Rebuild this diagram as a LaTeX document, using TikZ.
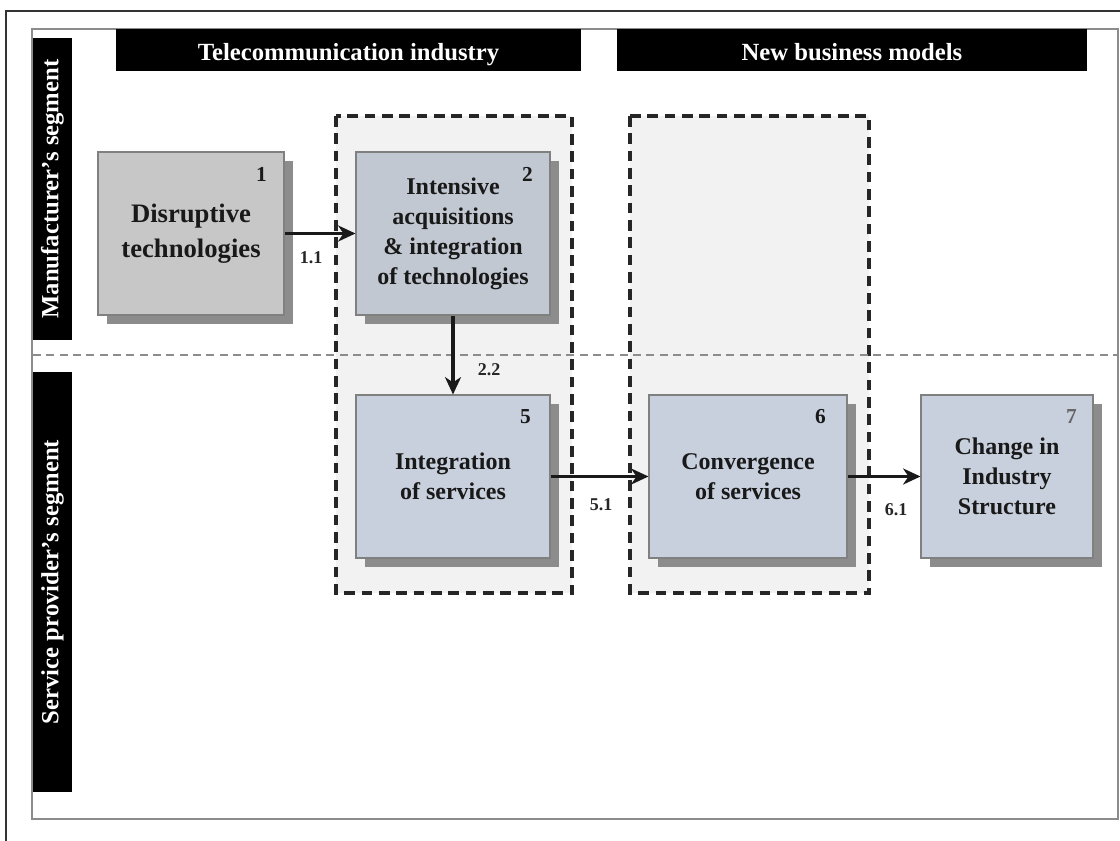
\documentclass[tikz,border=0pt]{standalone}
\usepackage{fontspec}
\setmainfont{Liberation Serif}
\usetikzlibrary{arrows.meta,calc,shadows}
\definecolor{boxgray}{HTML}{C7C7C7}
\definecolor{boxslate}{HTML}{C2C8D2}
\definecolor{boxblue}{HTML}{C8D0DD}
\definecolor{shadegray}{HTML}{8C8C8C}
\definecolor{zonefill}{HTML}{F2F2F2}
\begin{document}
\begin{tikzpicture}[x=0.75pt,y=-0.75pt,
  header/.style={fill=black, text=white, inner sep=0pt, minimum height=31.5pt,
    text height=17pt, text depth=1.5pt,
    font=\bfseries\fontsize{18.5}{22}\selectfont},
  sidebar/.style={fill=black, text=white, inner sep=0pt, rotate=90, minimum height=29.25pt,
    font=\bfseries\fontsize{18.5}{22}\selectfont},
  zone/.style={draw=black!85, line width=2.4pt, dash pattern=on 8pt off 5pt, fill=zonefill},
  stage/.style={draw=black!50, line width=0.8pt, text=black!90, align=center, inner sep=0pt,
    minimum height=122.25pt, font=\bfseries\fontsize{18}{22.5}\selectfont,
    general shadow={fill=shadegray, shadow xshift=6.75pt, shadow yshift=-6.75pt}},
  num/.style={inner sep=0pt, text=black!90, font=\bfseries\fontsize{16}{19}\selectfont},
  flow/.style={line width=2.7pt, black!90, -{Stealth[length=13pt,width=12pt,inset=4pt]}},
  tag/.style={inner sep=0pt, text=black!85, font=\bfseries\fontsize{13.5}{16}\selectfont}
]
\useasboundingbox (0,0) rectangle (1120,841);
\fill[white] (0,0) rectangle (1120,841);

% outer page edges and frame
\draw[black!80, line width=1.1pt] (6,841) -- (6,11) -- (1120,11);
\draw[black!45, line width=1.1pt] (32,29) rectangle (1118,819);

% column headers
\node[header, minimum width=348.75pt] (hTel) at (348.5,50) {Telecommunication industry};
\node[header, minimum width=352.5pt] (hNew) at (852,50) {New business models};

% row labels
\node[sidebar, minimum width=226.5pt] (sMan) at (52.5,189) {Manufacturer's segment};
\node[sidebar, minimum width=315pt] (sSrv) at (52.5,582) {Service provider's segment};

% grouping zones
\draw[zone] (336,116) rectangle (572,593);
\draw[zone] (630,116) rectangle (869,593);

% segment divider
\draw[black!45, line width=1.1pt, dash pattern=on 6pt off 4pt] (33,355) -- (1118,355);

% process stages
\node[stage, fill=boxgray, minimum width=139.5pt, font=\bfseries\fontsize{20}{26}\selectfont]
  (b1) at (191,233.5) {Disruptive\\technologies};
\node[stage, fill=boxslate, minimum width=145.5pt]
  (b2) at (453,233.5) {Intensive\\acquisitions\\\& integration\\of technologies};
\node[stage, fill=boxblue, minimum width=145.5pt]
  (b5) at (453,476.5) {Integration\\of services};
\node[stage, fill=boxblue, minimum width=148.5pt]
  (b6) at (748,476.5) {Convergence\\of services};
\node[stage, fill=boxblue, minimum width=129pt]
  (b7) at (1007,476.5) {Change in\\Industry\\Structure};

% stage numbers
\node[num] (n1) at ($(b1.north east)+(-23,23)$) {1};
\node[num] (n2) at ($(b2.north east)+(-23,23)$) {2};
\node[num] (n5) at ($(b5.north east)+(-25,22)$) {5};
\node[num] (n6) at ($(b6.north east)+(-27,22)$) {6};
\node[num, text=black!60] (n7) at ($(b7.north east)+(-22,22)$) {7};

% transitions
\draw[flow] (b1) -- (b2);
\draw[flow] (b2) -- (b5);
\draw[flow] (b5) -- (b6);
\draw[flow] (b6) -- (b7);

% transition labels
\node[tag] (t11) at (311,258) {1.1};
\node[tag] (t22) at (489,370) {2.2};
\node[tag] (t51) at (601,505) {5.1};
\node[tag] (t61) at (896,510) {6.1};
\end{tikzpicture}
\end{document}
